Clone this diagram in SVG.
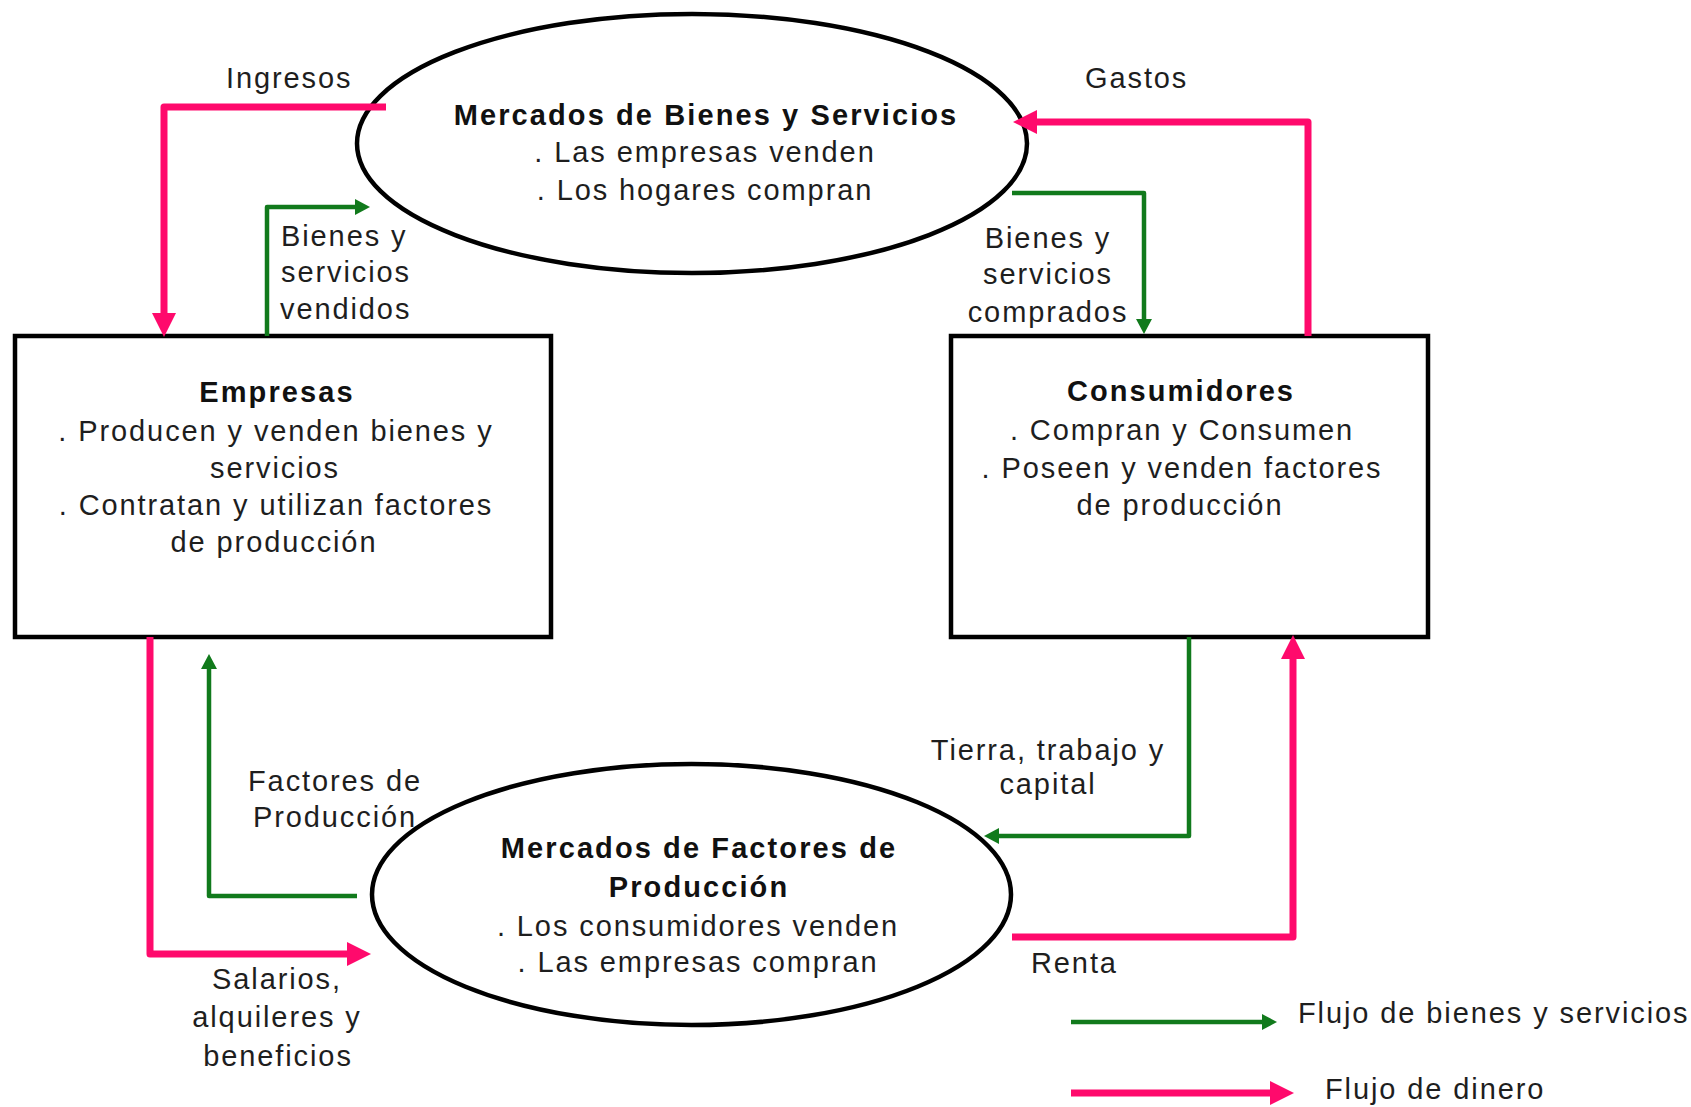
<svg xmlns="http://www.w3.org/2000/svg" width="1691" height="1107" viewBox="0 0 1691 1107">
<defs>
<style>
.t{font-family:"Liberation Sans",Arial,sans-serif;font-size:29px;letter-spacing:1.9px;fill:#1e1e1e}
.b{font-family:"Liberation Sans",Arial,sans-serif;font-size:29px;font-weight:bold;letter-spacing:2.1px;fill:#111}
.m{text-anchor:middle}
.node{fill:#fff;stroke:#000;stroke-width:4.5}
.pink{fill:none;stroke:#FF0A6C;stroke-width:7;stroke-linejoin:round}
.green{fill:none;stroke:#117A1C;stroke-width:4.5;stroke-linejoin:round}
</style>
<marker id="ap" markerUnits="userSpaceOnUse" markerWidth="24" markerHeight="24" viewBox="0 0 22 22" refX="0" refY="11" orient="auto">
<path d="M0,0 L22,11 L0,22 Z" fill="#FF0A6C"/>
</marker>
<marker id="ag" markerUnits="userSpaceOnUse" markerWidth="16" markerHeight="16" viewBox="0 0 15 16" refX="0" refY="8" orient="auto">
<path d="M0,0 L15,8 L0,16 Z" fill="#117A1C"/>
</marker>
</defs>
<rect width="1691" height="1107" fill="#fff"/>

<g id="mercado-bienes">
<ellipse class="node" cx="692" cy="143.5" rx="335" ry="129.5"/>
<text class="b m" x="706" y="125">Mercados de Bienes y Servicios</text>
<text class="t m" x="705" y="162">. Las empresas venden</text>
<text class="t m" x="705" y="200">. Los hogares compran</text>
</g>

<g id="empresas">
<rect class="node" x="15" y="336" width="536" height="301"/>
<text class="b m" x="277" y="402">Empresas</text>
<text class="t m" x="276" y="441">. Producen y venden bienes y</text>
<text class="t m" x="275" y="478">servicios</text>
<text class="t m" x="276" y="515">. Contratan y utilizan factores</text>
<text class="t m" x="274" y="552">de producción</text>
</g>

<g id="consumidores">
<rect class="node" x="951" y="336" width="477" height="301"/>
<text class="b m" x="1181" y="401">Consumidores</text>
<text class="t m" x="1182" y="440">. Compran y Consumen</text>
<text class="t m" x="1182" y="478">. Poseen y venden factores</text>
<text class="t m" x="1180" y="515">de producción</text>
</g>

<g id="mercado-factores">
<ellipse class="node" cx="691.5" cy="894.5" rx="319.5" ry="130.5"/>
<text class="b m" x="699" y="858">Mercados de Factores de</text>
<text class="b m" x="699" y="897">Producción</text>
<text class="t m" x="698" y="936">. Los consumidores venden</text>
<text class="t m" x="698" y="972">. Las empresas compran</text>
</g>

<g id="connectors">
<path class="pink" d="M386,107 H164 V313" marker-end="url(#ap)"/>
<path class="green" d="M267,336 V207 H355" marker-end="url(#ag)"/>
<path class="pink" d="M1308,336 V122 H1037" marker-end="url(#ap)"/>
<path class="green" d="M1012,193 H1144 V319" marker-end="url(#ag)"/>
<path class="green" d="M357,896 H209 V669" marker-end="url(#ag)"/>
<path class="pink" d="M150,637 V954 H347" marker-end="url(#ap)"/>
<path class="green" d="M1189,637 V836 H999" marker-end="url(#ag)"/>
<path class="pink" d="M1012,937 H1293 V659" marker-end="url(#ap)"/>
</g>

<g id="labels">
<text class="t" x="226" y="88">Ingresos</text>
<text class="t" x="1085" y="88">Gastos</text>
<text class="t" x="281" y="246">Bienes y</text>
<text class="t" x="281" y="282">servicios</text>
<text class="t" x="280" y="319">vendidos</text>
<text class="t m" x="1048" y="248">Bienes y</text>
<text class="t m" x="1048" y="284">servicios</text>
<text class="t m" x="1048" y="322">comprados</text>
<text class="t m" x="335" y="791">Factores de</text>
<text class="t m" x="335" y="827">Producción</text>
<text class="t m" x="277" y="989">Salarios,</text>
<text class="t m" x="277" y="1027">alquileres y</text>
<text class="t m" x="278" y="1066">beneficios</text>
<text class="t m" x="1048" y="760">Tierra, trabajo y</text>
<text class="t m" x="1048" y="794">capital</text>
<text class="t" x="1031" y="973">Renta</text>
</g>

<g id="legend">
<path class="green" d="M1071,1022 H1262" marker-end="url(#ag)"/>
<text class="t" x="1298" y="1023">Flujo de bienes y servicios</text>
<path class="pink" d="M1071,1093 H1270" marker-end="url(#ap)"/>
<text class="t" x="1325" y="1099">Flujo de dinero</text>
</g>
</svg>
